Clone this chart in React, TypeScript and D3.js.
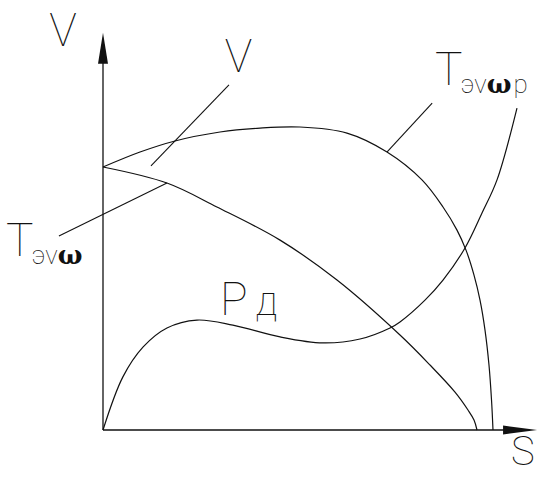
import React from "react";
import * as d3 from "d3";

// Curves on the S–V plane (S: horizontal, V: vertical), in chart units.
const vS = [0, 9.49, 18.46, 30, 40.26, 50.51, 62.56, 72.82, 81.79, 87.18, 90.77, 93.08, 95.13, 96.67, 97.95, 98.97, 99.62, 100];
const vV = [100, 105.7, 109.9, 113.3, 114.8, 115.2, 112.9, 105.7, 95.1, 84.8, 76.0, 68.4, 58.9, 49.4, 38.0, 24.7, 11.4, 0];

const tS = [0, 16.4, 29.2, 45.4, 60, 76.15, 83.85, 90.26, 93.59, 95.13, 95.9];
const tV = [100, 93.9, 84.8, 72.2, 57, 36.1, 24.7, 14.4, 7.6, 3.8, 0];

const pS = [0, 5.1, 10.3, 16.4, 24.1, 33.3, 45.4, 56.4, 65.9, 73.59, 76.15, 82.56, 87.18, 92.82, 97.18, 101.03, 106.15];
const pV = [0, 20.2, 31.6, 38.8, 41.8, 39.9, 35.4, 33.1, 34.6, 38.8, 41.1, 49.4, 57.0, 69.2, 82.5, 95.1, 122.4];

// Axis extents
const sMax = 111.3;
const vMax = 151;

const W = 544;
const H = 477;

const x = d3.scaleLinear().domain([0, 100]).range([103, 493]);
const y = d3.scaleLinear().domain([0, 100]).range([430, 167]);

const line = d3
  .line<[number, number]>()
  .x((d) => x(d[0]))
  .y((d) => y(d[1]))
  .curve(d3.curveCatmullRom.alpha(0.5));

const zip = (a: number[], b: number[]) => a.map((v, i) => [v, b[i]] as [number, number]);

const lightFont = "Roboto, 'DejaVu Sans', sans-serif";
const ink = "#111";

export default function App() {
  const x0 = x(0);
  const y0 = y(0);
  const yTop = y(vMax);
  const xEnd = x(sMax);
  return (
    <svg
      width={W}
      height={H}
      style={{ position: "absolute", left: 0, top: 0, background: "#fff" }}
    >
      <rect width={W} height={H} fill="#fff" />
      {/* axes */}
      <line x1={x0} y1={y0} x2={x0} y2={yTop + 28} stroke={ink} strokeWidth={1.3} />
      <polygon
        points={`${x0},${yTop} ${x0 - 5},${yTop + 31} ${x0 + 5},${yTop + 31}`}
        fill={ink}
      />
      <line x1={x0} y1={y0} x2={xEnd - 30} y2={y0} stroke={ink} strokeWidth={1.3} />
      <polygon
        points={`${xEnd},${y0} ${xEnd - 34},${y0 - 4.5} ${xEnd - 34},${y0 + 4.5}`}
        fill={ink}
      />

      {/* curves */}
      <path d={line(zip(vS, vV)) || ""} fill="none" stroke={ink} strokeWidth={1.2} />
      <path d={line(zip(tS, tV)) || ""} fill="none" stroke={ink} strokeWidth={1.2} />
      <path d={line(zip(pS, pV)) || ""} fill="none" stroke={ink} strokeWidth={1.2} />

      {/* leader lines */}
      <line x1={x(32.3)} y1={y(131.2)} x2={x(12.3)} y2={y(100.4)} stroke={ink} strokeWidth={1.1} />
      <line x1={x(-11.3)} y1={y(73.8)} x2={x(16.4)} y2={y(93.9)} stroke={ink} strokeWidth={1.1} />
      <line x1={x(84.4)} y1={y(124.3)} x2={x(72.8)} y2={y(105.7)} stroke={ink} strokeWidth={1.1} />

      {/* labels */}
      <g fill={ink} fontFamily={lightFont} fontWeight={100}>
        <text x={63} y={46} fontSize={46} textAnchor="middle">V</text>
        <text x={238.5} y={72} fontSize={46} textAnchor="middle">V</text>
        <text x={6} y={256} fontSize={46}>
          Т
          <tspan dx={-2} dy={8} fontSize={26}>эv</tspan>
          <tspan fontFamily="'DejaVu Serif', serif" fontWeight={700} fontSize={26}>ω</tspan>
        </text>
        <text x={435} y={85} fontSize={46}>
          Т
          <tspan dx={-2} dy={8} fontSize={26}>эv</tspan>
          <tspan fontFamily="'DejaVu Serif', serif" fontWeight={700} fontSize={26}>ω</tspan>
          <tspan fontSize={26} dx={2}>р</tspan>
        </text>
        <text x={220} y={315} fontSize={46}>
          Р<tspan dx={8} fontSize={40}>д</tspan>
        </text>
        <text x={511} y={465} fontSize={40}>S</text>
      </g>
    </svg>
  );
}
